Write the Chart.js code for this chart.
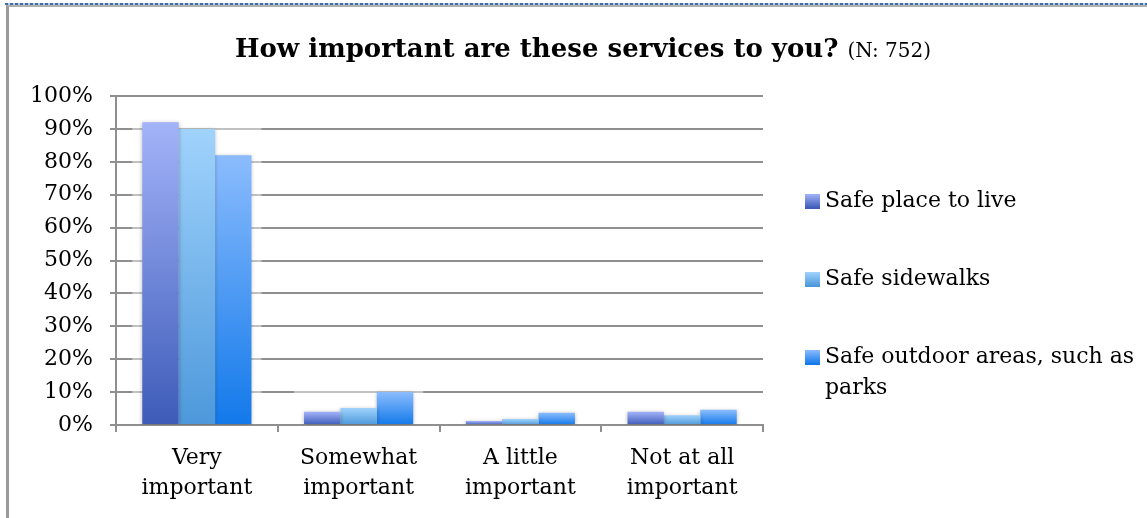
<!DOCTYPE html>
<html>
<head>
<meta charset="utf-8">
<script src="https://cdn.jsdelivr.net/npm/chart.js@4.4.1/dist/chart.umd.min.js"></script>
<style>
  html, body { margin: 0; padding: 0; background: #fff; }
  #wrap { position: relative; width: 1147px; height: 518px; overflow: hidden; }
  #dots { position: absolute; left: 5px; right: 0; top: 3px; height: 2px;
          background: repeating-linear-gradient(90deg, #3f6fa8 0 3px, #b9cbe0 3px 5px); }
  #frame { position: absolute; left: 6px; top: 5px; right: -4px; bottom: -4px;
           border-left: 3px solid #9a9a9a; border-top: 2px solid #b0b0b0; }
  #box { position: absolute; left: 0; top: 0; width: 1147px; height: 518px; }
</style>
</head>
<body>
<div id="wrap">
  <div id="dots"></div>
  <div id="frame"></div>
  <div id="box"><canvas id="servicesChart"></canvas></div>
</div>
<script>
const titleText = 'How important are these services to you?';
const sampleNote = '(N: 752)';

const categories = [
  ['Very', 'important'],
  ['Somewhat', 'important'],
  ['A little', 'important'],
  ['Not at all', 'important']
];

const safePlace = [92, 4, 1.2, 4];
const safeSidewalks = [90, 5.2, 1.8, 3];
const safeOutdoor = [82, 10, 3.7, 4.6];

const seriesNames = ['Safe place to live', 'Safe sidewalks', 'Safe outdoor areas, such as parks'];

const yTicks = [0, 10, 20, 30, 40, 50, 60, 70, 80, 90, 100];

// top / bottom colours of each series gradient
const shades = [
  ['#a3b3f9', '#3d5bb8'],
  ['#a0d3fc', '#4d98db'],
  ['#8bbcfd', '#1279ea']
];

const serif = "'DejaVu Serif', 'Liberation Serif', serif";
const gridGray = '#8f8f8f';

function barFill(context, i) {
  const chart = context.chart;
  if (!chart.chartArea || context.raw === undefined) return shades[i][1];
  const y = chart.scales.y;
  const top = y.getPixelForValue(context.raw);
  const bottom = y.getPixelForValue(0);
  const g = chart.ctx.createLinearGradient(0, top, 0, Math.max(bottom, top + 1));
  g.addColorStop(0, shades[i][0]);
  g.addColorStop(1, shades[i][1]);
  return g;
}

// soft white glow behind each group, it lightens the gridlines near the bars
const groupGlow = {
  id: 'groupGlow',
  beforeDatasetsDraw(chart) {
    const ctx = chart.ctx;
    const metas = chart.data.datasets.map((d, i) => chart.getDatasetMeta(i));
    ctx.save();
    ctx.fillStyle = 'rgba(255,255,255,0.45)';
    categories.forEach((c, j) => {
      let left = Infinity, right = -Infinity, top = Infinity, bottom = 0;
      metas.forEach(m => {
        const el = m.data[j];
        left = Math.min(left, el.x - el.width / 2);
        right = Math.max(right, el.x + el.width / 2);
        top = Math.min(top, el.y);
        bottom = Math.max(bottom, el.base);
      });
      ctx.fillRect(left - 10, top - 8, right - left + 20, bottom - top + 6);
    });
    ctx.restore();
  },
  beforeDatasetDraw(chart) {
    const ctx = chart.ctx;
    ctx.save();
    ctx.shadowColor = 'rgba(0,0,0,0.28)';
    ctx.shadowBlur = 4;
    ctx.shadowOffsetX = 0;
    ctx.shadowOffsetY = 1;
  },
  afterDatasetDraw(chart) {
    chart.ctx.restore();
  }
};

// heading with the smaller sample size note after it
const heading = {
  id: 'heading',
  afterDraw(chart) {
    const ctx = chart.ctx;
    ctx.save();
    ctx.fillStyle = '#000';
    ctx.textBaseline = 'alphabetic';
    ctx.font = 'bold 26px ' + serif;
    const w1 = ctx.measureText(titleText).width;
    ctx.font = '20px ' + serif;
    const w2 = ctx.measureText(sampleNote).width;
    const gap = 9;
    let x = 583 - (w1 + gap + w2) / 2;
    ctx.font = 'bold 26px ' + serif;
    ctx.fillText(titleText, x, 57);
    ctx.font = '20px ' + serif;
    ctx.fillText(sampleNote, x + w1 + gap, 57);
    ctx.restore();
  }
};

// legend on the right, long names wrap onto a second line
const sideLegend = {
  id: 'sideLegend',
  afterDraw(chart) {
    const ctx = chart.ctx;
    const rowsY = [201, 279, 357];
    const boxX = 805, textX = 825, maxW = 318, lineH = 31;
    ctx.save();
    ctx.font = '22px ' + serif;
    ctx.textBaseline = 'middle';
    seriesNames.forEach((name, i) => {
      const y = rowsY[i];
      const g = ctx.createLinearGradient(0, y - 7, 0, y + 7);
      g.addColorStop(0, shades[i][0]);
      g.addColorStop(1, shades[i][1]);
      ctx.fillStyle = g;
      ctx.fillRect(boxX, y - 7, 15, 15);
      const lines = [];
      let cur = '';
      name.split(' ').forEach(word => {
        const t = cur ? cur + ' ' + word : word;
        if (cur && ctx.measureText(t).width > maxW) {
          lines.push(cur);
          cur = word;
        } else {
          cur = t;
        }
      });
      lines.push(cur);
      ctx.fillStyle = '#000';
      lines.forEach((ln, k) => ctx.fillText(ln, textX, y + k * lineH));
    });
    ctx.restore();
  }
};

const datasets = [safePlace, safeSidewalks, safeOutdoor].map((vals, i) => ({
  label: seriesNames[i],
  data: vals,
  backgroundColor: c => barFill(c, i),
  borderWidth: 0,
  categoryPercentage: 0.675,
  barPercentage: 1.0
}));

new Chart(document.getElementById('servicesChart'), {
  type: 'bar',
  data: { labels: categories, datasets: datasets },
  options: {
    responsive: true,
    maintainAspectRatio: false,
    animation: false,
    layout: { padding: { left: 10, top: 96, right: 384, bottom: 0 } },
    plugins: {
      legend: { display: false },
      title: { display: false },
      tooltip: { enabled: false }
    },
    scales: {
      x: {
        offset: true,
        afterFit: s => { s.height = 93; },
        grid: {
          display: true,
          drawOnChartArea: false,
          offset: true,
          tickLength: 7,
          color: gridGray,
          lineWidth: 2
        },
        border: { display: true, color: gridGray, width: 2 },
        ticks: {
          color: '#000',
          padding: 11,
          font: { family: serif, size: 22, lineHeight: 1.36 },
          maxRotation: 0
        }
      },
      y: {
        min: 0,
        max: 100,
        afterFit: s => { s.width = 106; },
        afterBuildTicks: s => { s.ticks = yTicks.map(v => ({ value: v })); },
        grid: {
          color: gridGray,
          lineWidth: 2,
          tickLength: 6
        },
        border: { display: true, color: gridGray, width: 2 },
        ticks: {
          color: '#000',
          padding: 17,
          font: { family: serif, size: 22 },
          callback: v => v + '%'
        }
      }
    }
  },
  plugins: [groupGlow, heading, sideLegend]
});
</script>
</body>
</html>
